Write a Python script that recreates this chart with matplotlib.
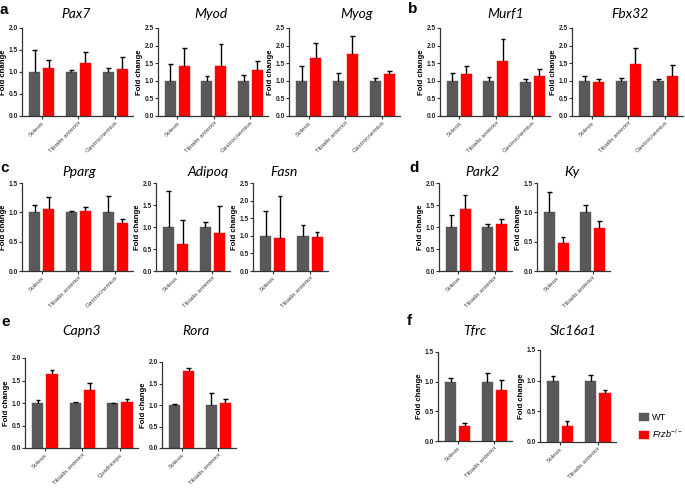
import numpy as np
import matplotlib
matplotlib.use("Agg")
import matplotlib.pyplot as plt

plt.rcParams["font.family"] = ["Liberation Sans", "DejaVu Sans"]
plt.rcParams["mathtext.fontset"] = "custom"
plt.rcParams["mathtext.it"] = "Liberation Sans:italic"
plt.rcParams["mathtext.rm"] = "Liberation Sans"

# --- data (fold change, mean and SEM) ---------------------------------------------
T3_GAS = ["Soleus", "Tibialis anterior", "Gastrocnemius"]
T3_QUAD = ["Soleus", "Tibialis anterior", "Quadriceps"]
T2 = ["Soleus", "Tibialis anterior"]

pax7_wt, pax7_wt_sem = [1.00, 1.00, 1.00], [0.50, 0.05, 0.10]
pax7_ko, pax7_ko_sem = [1.08, 1.20, 1.07], [0.19, 0.25, 0.26]
myod_wt, myod_wt_sem = [1.00, 1.00, 1.00], [0.47, 0.13, 0.17]
myod_ko, myod_ko_sem = [1.42, 1.42, 1.30], [0.51, 0.63, 0.27]
myog_wt, myog_wt_sem = [1.00, 1.00, 1.00], [0.42, 0.22, 0.07]
myog_ko, myog_ko_sem = [1.65, 1.75, 1.20], [0.42, 0.53, 0.07]
murf1_wt, murf1_wt_sem = [1.00, 1.00, 0.98], [0.23, 0.10, 0.06]
murf1_ko, murf1_ko_sem = [1.18, 1.56, 1.13], [0.24, 0.62, 0.21]
fbx32_wt, fbx32_wt_sem = [1.00, 1.00, 1.00], [0.13, 0.07, 0.06]
fbx32_ko, fbx32_ko_sem = [0.97, 1.48, 1.15], [0.08, 0.45, 0.30]
pparg_wt, pparg_wt_sem = [1.00, 1.00, 1.00], [0.13, 0.03, 0.27]
pparg_ko, pparg_ko_sem = [1.05, 1.02, 0.81], [0.21, 0.07, 0.08]
adipoq_wt, adipoq_wt_sem = [1.00, 1.00], [0.82, 0.11]
adipoq_ko, adipoq_ko_sem = [0.61, 0.87], [0.54, 0.61]
fasn_wt, fasn_wt_sem = [1.00, 1.00], [0.70, 0.31]
fasn_ko, fasn_ko_sem = [0.93, 0.96], [1.20, 0.16]
park2_wt, park2_wt_sem = [1.00, 1.00], [0.27, 0.07]
park2_ko, park2_ko_sem = [1.41, 1.06], [0.31, 0.12]
ky_wt, ky_wt_sem = [1.00, 1.00], [0.35, 0.13]
ky_ko, ky_ko_sem = [0.47, 0.74], [0.11, 0.11]
capn3_wt, capn3_wt_sem = [1.00, 1.00, 1.00], [0.07, 0.02, 0.01]
capn3_ko, capn3_ko_sem = [1.64, 1.28, 1.02], [0.10, 0.16, 0.07]
rora_wt, rora_wt_sem = [1.00, 1.00], [0.03, 0.29]
rora_ko, rora_ko_sem = [1.78, 1.05], [0.08, 0.10]
tfrc_wt, tfrc_wt_sem = [1.00, 1.00], [0.06, 0.15]
tfrc_ko, tfrc_ko_sem = [0.26, 0.86], [0.05, 0.16]
slc_wt, slc_wt_sem = [1.00, 1.00], [0.08, 0.09]
slc_ko, slc_ko_sem = [0.26, 0.80], [0.09, 0.05]

WT_C = "#595959"
KO_C = "#ff0000"
W, H = 685, 488

# (title, tissues, wt, wt_sem, ko, ko_sem, ymax, rect px (x0, x1, ytop, ybot), title x, title y)
panels = [
    ("Pax7", T3_GAS, pax7_wt, pax7_wt_sem, pax7_ko, pax7_ko_sem, 2.0, (22, 133, 28, 116), 76, 18),
    ("Myod", T3_GAS, myod_wt, myod_wt_sem, myod_ko, myod_ko_sem, 2.5, (158, 268, 28, 116), 211, 18),
    ("Myog", T3_GAS, myog_wt, myog_wt_sem, myog_ko, myog_ko_sem, 2.5, (289, 400, 28, 116), 357, 18),
    ("Murf1", T3_GAS, murf1_wt, murf1_wt_sem, murf1_ko, murf1_ko_sem, 2.5, (440, 550, 28, 116), 506, 18),
    ("Fbx32", T3_GAS, fbx32_wt, fbx32_wt_sem, fbx32_ko, fbx32_ko_sem, 2.5, (572, 683, 28, 116), 630, 18),
    ("Pparg", T3_GAS, pparg_wt, pparg_wt_sem, pparg_ko, pparg_ko_sem, 1.5, (22, 133, 183, 271), 79, 176),
    ("Adipoq", T2, adipoq_wt, adipoq_wt_sem, adipoq_ko, adipoq_ko_sem, 2.0, (156, 230, 183, 271), 208, 176),
    ("Fasn", T2, fasn_wt, fasn_wt_sem, fasn_ko, fasn_ko_sem, 2.5, (253, 328, 183, 271), 284, 176),
    ("Park2", T2, park2_wt, park2_wt_sem, park2_ko, park2_ko_sem, 2.0, (439, 512, 183, 271), 482, 176),
    ("Ky", T2, ky_wt, ky_wt_sem, ky_ko, ky_ko_sem, 1.5, (537, 610, 183, 271), 572, 176),
    ("Capn3", T3_QUAD, capn3_wt, capn3_wt_sem, capn3_ko, capn3_ko_sem, 2.0, (25, 138, 358, 448), 82, 335),
    ("Rora", T2, rora_wt, rora_wt_sem, rora_ko, rora_ko_sem, 2.0, (162, 236, 362, 448), 196, 335),
    ("Tfrc", T2, tfrc_wt, tfrc_wt_sem, tfrc_ko, tfrc_ko_sem, 1.5, (438, 512, 352, 441), 475, 335),
    ("Slc16a1", T2, slc_wt, slc_wt_sem, slc_ko, slc_ko_sem, 1.5, (540, 616, 350, 442), 573, 335),
]

letters = [("a", 0, 10), ("b", 408, 9), ("c", 0, 168), ("d", 409, 168), ("e", 1, 322), ("f", 407, 321)]


def bars_with_sem(ax, x, vals, sem, color):
    vals = np.asarray(vals)
    top = vals + np.asarray(sem)
    b = ax.bar(x, vals, width=0.30, color=color, edgecolor=color, lw=0.3, zorder=2)
    ax.vlines(x, vals, top, color="black", lw=1.0, zorder=3)
    ax.hlines(top, x - 0.06, x + 0.06, color="black", lw=1.0, zorder=3)
    return b


fig = plt.figure(figsize=(W / 100, H / 100), dpi=100)
handles = None
for title, tissues, wt, wt_sem, ko, ko_sem, ymax, (x0, x1, yt, yb), tx, ty in panels:
    ax = fig.add_axes([x0 / W, 1 - yb / H, (x1 - x0) / W, (yb - yt) / H])
    n = len(tissues)
    x = np.arange(n)
    hw = bars_with_sem(ax, x - 0.19, wt, wt_sem, WT_C)
    hk = bars_with_sem(ax, x + 0.19, ko, ko_sem, KO_C)
    handles = (hw, hk)
    ax.set_xlim(-0.53, n - 1 + 0.48)
    ax.set_ylim(0, ymax)
    yt_vals = np.arange(0, ymax + 0.01, 0.5)
    ax.set_yticks(yt_vals)
    ax.set_yticklabels([f"{v:.1f}" for v in yt_vals],
                       fontsize=4.8, fontweight="bold", color="#222222")
    ax.set_xticks(x)
    ax.set_xticklabels(tissues, rotation=45, ha="right", rotation_mode="anchor",
                       fontsize=4.6, color="#444444")
    ax.tick_params(axis="both", length=2, width=0.8, pad=1.0, color="#333333")
    for s in ("top", "right"):
        ax.spines[s].set_visible(False)
    for s in ("left", "bottom"):
        ax.spines[s].set_linewidth(0.9)
        ax.spines[s].set_color("#333333")
    ax.set_ylabel("Fold change", fontsize=5.6, fontweight="bold")
    ax.yaxis.set_label_coords(-15 / (x1 - x0), 0.5)
    fig.text(tx / W, 1 - ty / H, title, fontsize=10, style="italic",
             family=["Lato", "DejaVu Sans"], ha="center", va="baseline")

for lab, lx, ly in letters:
    fig.text(lx / W, 1 - ly / H, lab, fontsize=11, fontweight="bold", ha="left", va="center")

fig.legend(handles, ["WT", r"$\mathit{Frzb}^{-/-}$"], loc="upper left",
           bbox_to_anchor=(639 / W, 1 - 413 / H), frameon=False, fontsize=6.6,
           borderpad=0, borderaxespad=0,
           handlelength=1.05, handleheight=1.0, handletextpad=0.35, labelspacing=0.6)

fig.savefig("out.png", dpi=100)
